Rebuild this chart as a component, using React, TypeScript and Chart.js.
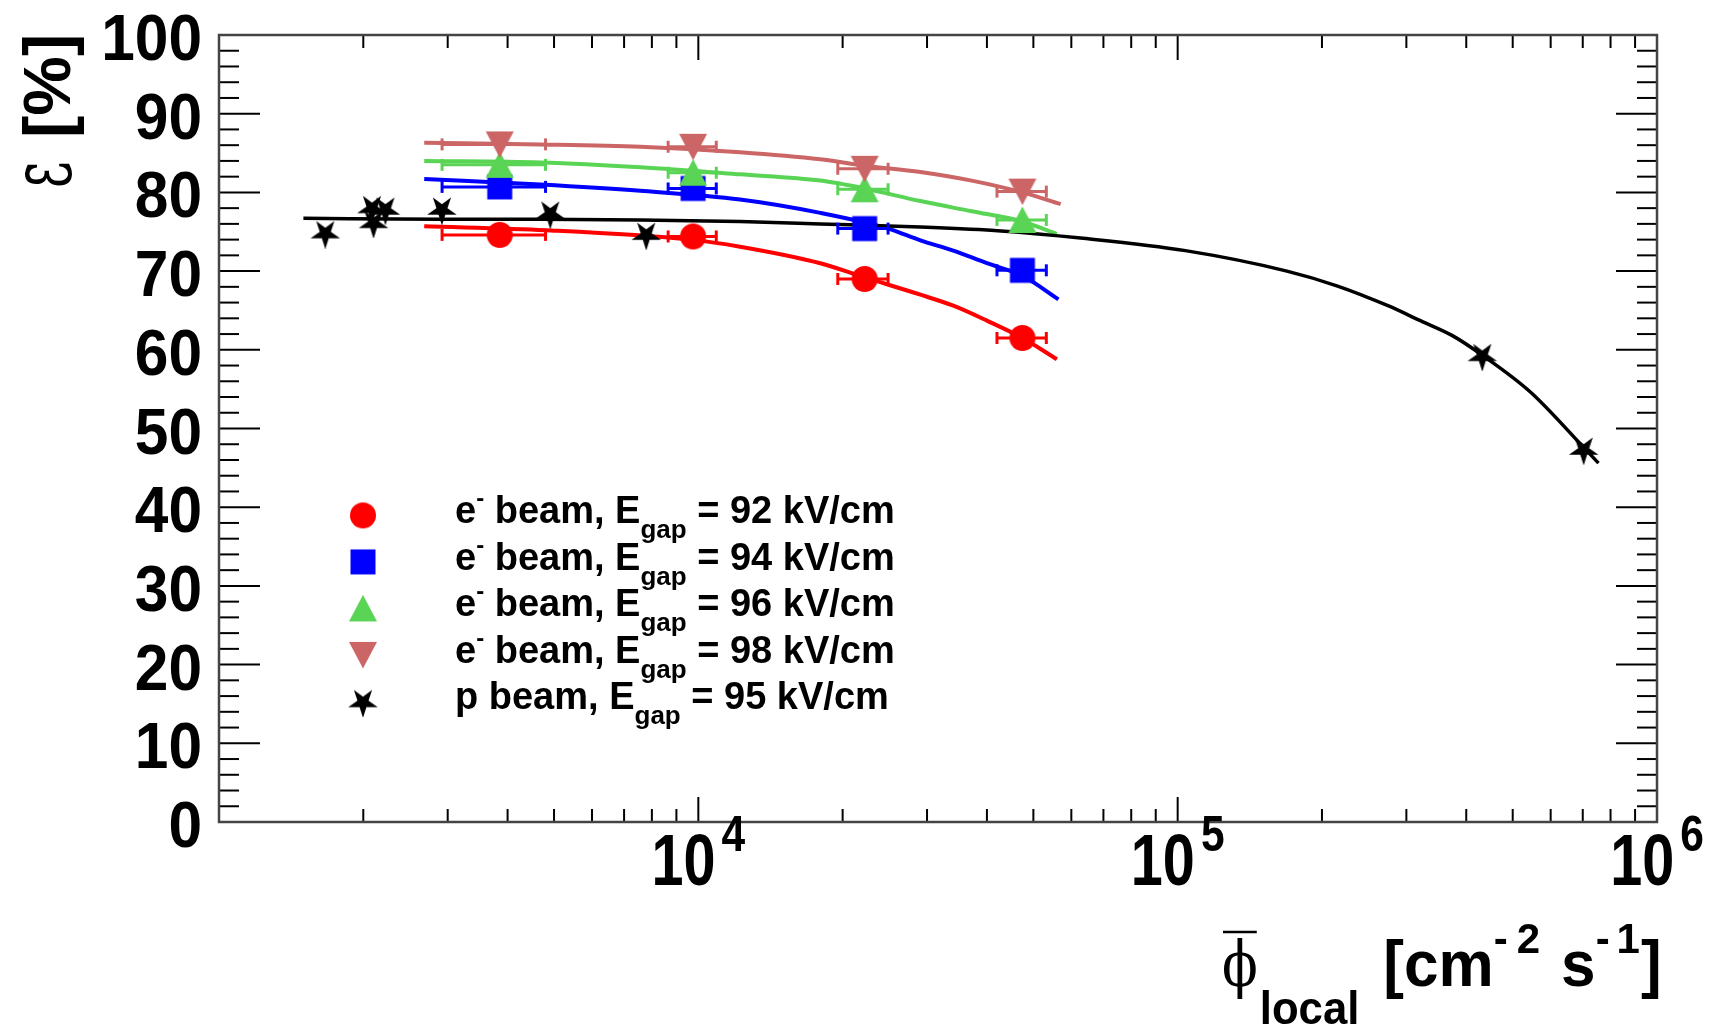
import React, { useEffect, useRef } from "react";
import { Chart, registerables } from "chart.js";

Chart.register(...registerables);

// ---------------- data ----------------
// e- beam measurements (shared flux points and horizontal error ranges)
const fluxE = [3852, 9750, 22230, 47430];
const fluxELow = [2920, 8650, 19540, 41980];
const fluxEHigh = [4800, 10900, 24880, 53210];
const eff92 = [74.6, 74.4, 69.0, 61.5];
const eff94 = [80.7, 80.5, 75.4, 70.1];
const eff96 = [83.5, 82.5, 80.4, 76.5];
const eff98 = [86.1, 85.8, 83.0, 80.1];

// p beam measurements
const fluxP = [1666, 2085, 2224, 2101, 2918, 4910, 7785, 432000, 703000];
const effP = [74.9, 78.1, 77.9, 76.2, 77.9, 77.4, 74.7, 59.3, 47.4];

// fit curves
const fit92X = [2680, 4800, 9620, 12220, 17970, 22230, 29060, 34040, 40000, 47430, 55980];
const fit92Y = [75.7, 75.2, 74.0, 73.1, 71.0, 69.2, 67.0, 65.6, 63.7, 61.5, 58.8];
const fit94X = [2680, 4680, 7570, 12220, 17970, 24880, 29060, 34040, 40000, 47430, 56400];
const fit94Y = [81.7, 81.0, 80.2, 79.1, 77.4, 75.4, 73.9, 72.6, 71.0, 69.4, 66.4];
const fit96X = [2680, 4680, 7570, 12220, 17970, 22230, 29060, 37180, 47430, 55980];
const fit96Y = [84.0, 83.8, 83.2, 82.3, 81.5, 80.5, 78.9, 77.6, 76.3, 74.7];
const fit98X = [2680, 4680, 7570, 12220, 17970, 22230, 29060, 37180, 47430, 57000];
const fit98Y = [86.3, 86.1, 85.8, 85.1, 84.2, 83.4, 82.6, 81.5, 80.0, 78.5];
const fitPX = [1500, 2900, 4700, 7570, 12220, 17970, 29060, 42800, 62700, 103800, 169000, 215600, 274600, 320900, 374300, 432300, 545000, 703000, 755000];
const fitPY = [76.7, 76.6, 76.6, 76.5, 76.3, 76.0, 75.6, 75.1, 74.2, 72.6, 70.0, 68.1, 65.6, 63.7, 61.8, 59.3, 54.6, 47.6, 45.6];

// axes
const xMin = 1000;
const xMax = 1000000;
const yMin = 0;
const yMax = 100;
const yTickLabels = [0, 10, 20, 30, 40, 50, 60, 70, 80, 90, 100];
const xTickPowers = [4, 5, 6];

// legend
const legendBeam = ["e", "e", "e", "e", "p"];
const legendSup = ["-", "-", "-", "-", ""];
const legendField = ["92", "94", "96", "98", "95"];

// colours
const RED = "#ff0000";
const BLUE = "#0000ff";
const GREEN = "#59d454";
const PINK = "#cc6666";
const BLACK = "#000000";

const SANS = '"Liberation Sans", Arial, Helvetica, sans-serif';
const SERIF = '"DejaVu Serif", "Liberation Serif", serif';

function makeMarker(shape: string, color: string): HTMLCanvasElement {
  const c = document.createElement("canvas");
  const s = 32;
  c.width = s;
  c.height = s;
  const g = c.getContext("2d")!;
  g.fillStyle = color;
  const cx = s / 2;
  const cy = s / 2;
  g.beginPath();
  if (shape === "circle") {
    g.arc(cx, cy, 13, 0, Math.PI * 2);
  } else if (shape === "square") {
    g.rect(cx - 12.5, cy - 12.5, 25, 25);
  } else if (shape === "tri") {
    g.moveTo(cx, cy - 13.5);
    g.lineTo(cx + 14, cy + 13);
    g.lineTo(cx - 14, cy + 13);
  } else if (shape === "itri") {
    g.moveTo(cx, cy + 13.5);
    g.lineTo(cx + 14, cy - 13);
    g.lineTo(cx - 14, cy - 13);
  } else if (shape === "star") {
    const R = 15.5;
    const r = 5.8;
    for (let i = 0; i < 10; i++) {
      const ang = Math.PI / 2 + (i * Math.PI) / 5;
      const rad = i % 2 === 0 ? R : r;
      const x = cx + Math.cos(ang) * rad;
      const y = cy + 1 + Math.sin(ang) * rad;
      if (i === 0) g.moveTo(x, y);
      else g.lineTo(x, y);
    }
  }
  g.closePath();
  g.fill();
  return c;
}

type Piece = { text: string; font: string; dy?: number; sx?: number; gap?: number; bar?: boolean };

function measurePieces(ctx: CanvasRenderingContext2D, pieces: Piece[]) {
  let w = 0;
  for (const p of pieces) {
    ctx.font = p.font;
    w += (p.gap || 0) + ctx.measureText(p.text).width * (p.sx || 1);
  }
  return w;
}

function flow(ctx: CanvasRenderingContext2D, x: number, baseline: number, pieces: Piece[]) {
  let cx = x;
  for (const p of pieces) {
    cx += p.gap || 0;
    const sx = p.sx || 1;
    ctx.save();
    ctx.font = p.font;
    ctx.textAlign = "left";
    ctx.textBaseline = "alphabetic";
    const w = ctx.measureText(p.text).width * sx;
    ctx.translate(cx, baseline + (p.dy || 0));
    ctx.scale(sx, 1);
    ctx.fillText(p.text, 0, 0);
    ctx.restore();
    if (p.bar) {
      ctx.save();
      ctx.strokeStyle = "#000";
      ctx.lineWidth = 2.5;
      ctx.beginPath();
      ctx.moveTo(cx + 1, 932);
      ctx.lineTo(cx + w - 1, 932);
      ctx.stroke();
      ctx.restore();
    }
    cx += w;
  }
  return cx;
}

function line(ctx: CanvasRenderingContext2D, x1: number, y1: number, x2: number, y2: number) {
  ctx.beginPath();
  ctx.moveTo(x1, y1);
  ctx.lineTo(x2, y2);
  ctx.stroke();
}

const toPts = (xs: number[], ys: number[]) => xs.map((x, i) => ({ x, y: ys[i] }));

export default function App() {
  const ref = useRef<HTMLCanvasElement>(null);

  useEffect(() => {
    const canvas = ref.current!;
    const mk = {
      circle: makeMarker("circle", RED),
      square: makeMarker("square", BLUE),
      tri: makeMarker("tri", GREEN),
      itri: makeMarker("itri", PINK),
      star: makeMarker("star", BLACK),
    };
    const legendMarkers = [mk.circle, mk.square, mk.tri, mk.itri, mk.star];

    const errLow: Record<number, number[]> = {};
    const errHigh: Record<number, number[]> = {};

    const pointSets = [
      { data: toPts(fluxE, eff92), color: RED, style: mk.circle, order: 4 },
      { data: toPts(fluxE, eff94), color: BLUE, style: mk.square, order: 3 },
      { data: toPts(fluxE, eff96), color: GREEN, style: mk.tri, order: 2 },
      { data: toPts(fluxE, eff98), color: PINK, style: mk.itri, order: 1 },
    ];
    const fitSets = [
      { data: toPts(fit92X, fit92Y), color: RED },
      { data: toPts(fit94X, fit94Y), color: BLUE },
      { data: toPts(fit96X, fit96Y), color: GREEN },
      { data: toPts(fit98X, fit98Y), color: PINK },
      { data: toPts(fitPX, fitPY), color: BLACK },
    ];

    const datasets: any[] = [];
    fitSets.forEach((f, i) => {
      datasets.push({
        data: f.data,
        showLine: true,
        borderColor: f.color,
        backgroundColor: f.color,
        borderWidth: i === 4 ? 3.5 : 4,
        pointRadius: 0,
        cubicInterpolationMode: "monotone",
        order: 20 - i,
      });
    });
    pointSets.forEach((p) => {
      errLow[datasets.length] = fluxELow;
      errHigh[datasets.length] = fluxEHigh;
      datasets.push({
        data: p.data,
        showLine: false,
        borderColor: p.color,
        backgroundColor: p.color,
        pointStyle: p.style,
        pointRadius: 13,
        order: p.order,
      });
    });
    datasets.push({
      data: toPts(fluxP, effP),
      showLine: false,
      borderColor: BLACK,
      backgroundColor: BLACK,
      pointStyle: mk.star,
      pointRadius: 14,
      order: 0,
    });

    const rootPlugin = {
      id: "rootStyle",
      beforeDatasetDraw(chart: any, args: any) {
        const lo = errLow[args.index];
        if (!lo) return;
        const hi = errHigh[args.index];
        const ds = chart.data.datasets[args.index];
        const xs = chart.scales.x;
        const ys = chart.scales.y;
        const ctx = chart.ctx as CanvasRenderingContext2D;
        ctx.save();
        ctx.strokeStyle = ds.borderColor;
        ctx.lineWidth = 3;
        ds.data.forEach((pt: any, i: number) => {
          const y = ys.getPixelForValue(pt.y);
          const x1 = xs.getPixelForValue(lo[i]);
          const x2 = xs.getPixelForValue(hi[i]);
          line(ctx, x1, y, x2, y);
          line(ctx, x1, y - 6, x1, y + 6);
          line(ctx, x2, y - 6, x2, y + 6);
        });
        ctx.restore();
      },
      afterDraw(chart: any) {
        const ctx = chart.ctx as CanvasRenderingContext2D;
        const { left, right, top, bottom } = chart.chartArea;
        const xs = chart.scales.x;
        const ys = chart.scales.y;

        ctx.save();
        // ticks
        ctx.strokeStyle = "#000";
        ctx.lineWidth = 2;
        for (let v = yMin; v <= yMax; v += 2) {
          const y = ys.getPixelForValue(v);
          const len = v % 10 === 0 ? 41 : 20;
          line(ctx, left, y, left + len, y);
          line(ctx, right, y, right - len, y);
        }
        for (let d = 3; d <= 5; d++) {
          for (let m = 1; m <= 9; m++) {
            const v = m * Math.pow(10, d);
            if (v <= xMin) continue;
            const x = xs.getPixelForValue(v);
            const len = m === 1 ? 25 : 13;
            line(ctx, x, bottom, x, bottom - len);
            line(ctx, x, top, x, top + len);
          }
        }
        // frame
        ctx.strokeStyle = "#444";
        ctx.lineWidth = 2.5;
        ctx.strokeRect(left, top, right - left, bottom - top);

        // y tick labels
        ctx.fillStyle = "#000";
        for (const v of yTickLabels) {
          const y = ys.getPixelForValue(v);
          ctx.save();
          ctx.font = `bold 65px ${SANS}`;
          ctx.textAlign = "right";
          ctx.textBaseline = "alphabetic";
          ctx.translate(left - 17, y + 25);
          ctx.scale(0.93, 1);
          ctx.fillText(String(v), 0, 0);
          ctx.restore();
        }

        // x tick labels 10^n
        for (const p of xTickPowers) {
          const x = xs.getPixelForValue(Math.pow(10, p));
          const pieces: Piece[] = [
            { text: "10", font: `bold 72px ${SANS}`, sx: 0.8 },
            { text: String(p), font: `bold 50px ${SANS}`, sx: 0.85, dy: -34, gap: 6 },
          ];
          const w = measurePieces(ctx, pieces);
          flow(ctx, x - w / 2, 885, pieces);
        }

        // x axis title
        flow(ctx, 1222, 986, [
          { text: "\u03D5", font: `normal 64px ${SERIF}`, sx: 0.82, bar: true },
          { text: "local", font: `bold 46px ${SANS}`, sx: 0.95, dy: 38, gap: 2 },
          { text: "[cm", font: `bold 64px ${SANS}`, sx: 0.97, gap: 24 },
          { text: "-", font: `bold 42px ${SANS}`, dy: -33, gap: 0 },
          { text: "2", font: `bold 42px ${SANS}`, dy: -33, gap: 9 },
          { text: "s", font: `bold 64px ${SANS}`, sx: 0.97, gap: 21 },
          { text: "-", font: `bold 42px ${SANS}`, dy: -33, gap: 0 },
          { text: "1", font: `bold 42px ${SANS}`, dy: -33, gap: 7 },
          { text: "]", font: `bold 64px ${SANS}`, sx: 0.97, gap: 1 },
        ]);

        // y axis title (rotated)
        ctx.save();
        ctx.translate(70, 188);
        ctx.rotate(-Math.PI / 2);
        ctx.textBaseline = "alphabetic";
        ctx.textAlign = "left";
        ctx.save();
        ctx.font = `normal 86px ${SERIF}`;
        ctx.scale(0.6, 1);
        ctx.fillText("\u03B5", 0, 0);
        ctx.restore();
        ctx.font = `bold 67px ${SANS}`;
        ctx.fillText("[%]", 50, 0);
        ctx.restore();

        // legend
        const rowY0 = 515.4;
        const rowDy = 46.5;
        for (let i = 0; i < legendBeam.length; i++) {
          const ry = rowY0 + i * rowDy;
          const m = legendMarkers[i];
          ctx.drawImage(m, 363 - m.width / 2, ry - m.height / 2);
          const pieces: Piece[] = [{ text: legendBeam[i], font: `bold 38px ${SANS}` }];
          if (legendSup[i]) pieces.push({ text: legendSup[i], font: `bold 24px ${SANS}`, dy: -17 });
          pieces.push({ text: " beam, E", font: `bold 38px ${SANS}` });
          pieces.push({ text: "gap", font: `bold 26px ${SANS}`, dy: 15 });
          pieces.push({ text: ` = ${legendField[i]} kV/cm`, font: `bold 38px ${SANS}` });
          flow(ctx, 455, ry + 8, pieces);
        }
        ctx.restore();
      },
    };

    const chart = new Chart(canvas, {
      type: "scatter",
      data: { datasets },
      options: {
        responsive: false,
        animation: false,
        events: [],
        layout: { padding: { left: 219, top: 35, right: 66, bottom: 206 } },
        plugins: { legend: { display: false }, tooltip: { enabled: false } },
        scales: {
          x: { type: "logarithmic", min: xMin, max: xMax, display: false },
          y: { type: "linear", min: yMin, max: yMax, display: false },
        },
      },
      plugins: [rootPlugin],
    } as any);

    return () => chart.destroy();
  }, []);

  return (
    <div style={{ position: "absolute", left: 0, top: 0, width: 1723, height: 1028, background: "#fff" }}>
      <canvas ref={ref} width={1723} height={1028} style={{ display: "block", width: 1723, height: 1028 }} />
    </div>
  );
}
